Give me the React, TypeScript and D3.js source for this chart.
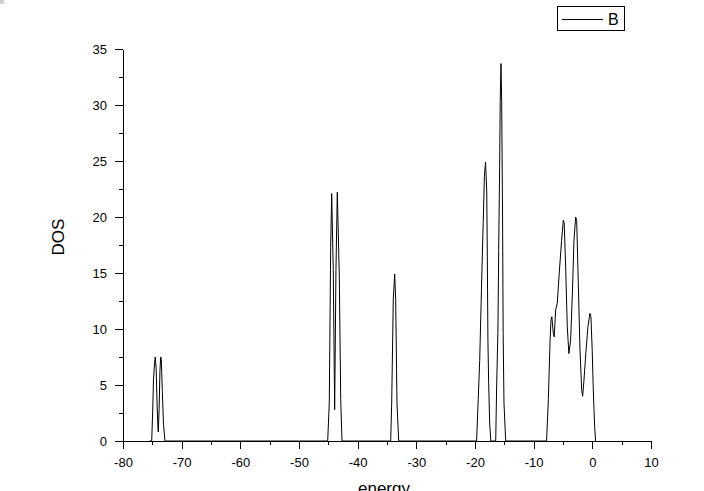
import { useEffect, useRef } from 'react';
import * as d3 from 'd3';

// DOS curve (energy in eV, DOS)
const energy = [
  -75.5, -75.11, -74.95, -74.8, -74.62, -74.5, -74.35, -74.2, -74.05, -73.98, -73.85, -73.7, -73.58, -73.47, -73.3, -73.1, -72.84,
  -45.11, -44.84, -44.6, -44.43, -44.16, -43.92, -43.7, -43.47, -43.13, -42.89, -42.67,
  -34.37, -34.2, -33.93, -33.69, -33.52, -33.3, -33.01,
  -19.73, -19.45, -19.2, -18.9, -18.6, -18.4, -18.2, -18.0, -17.9, -17.8, -17.67, -17.5, -17.3,
  -16.47, -16.3, -16.1, -15.96, -15.8, -15.7, -15.57, -15.45, -15.3, -15.2, -15.06, -14.77,
  -7.8, -7.5, -7.2, -7.05, -6.9, -6.65, -6.5, -6.25, -5.98, -5.64, -5.24, -4.95, -4.8, -4.55, -4.27, -4.0,
  -3.7, -3.4, -3.13, -2.84, -2.67, -2.39, -2.1, -1.82, -1.65, -1.43, -1.1, -0.75, -0.41, -0.24, -0.02, 0.15, 0.39, 0.56,
];
const dos = [
  0, 0, 2.5, 5.5, 7.0, 7.5, 6.5, 3.5, 1.2, 0.8, 2.8, 6.3, 7.5, 7.3, 4.5, 1.5, 0,
  0, 3.4, 17.3, 22.1, 15.3, 2.8, 15.3, 22.2, 14.7, 3.7, 0,
  0, 3.4, 12.6, 14.9, 12.6, 3.4, 0,
  0, 3.7, 7.2, 13.5, 19.5, 23.6, 24.9, 22.4, 16.5, 9.0, 5.2, 1.6, 0,
  0, 5.2, 9.6, 17, 24.5, 30.4, 33.7, 30.2, 20, 9.6, 3.4, 0,
  0, 3.7, 9, 10.8, 11.1, 9.6, 9.3, 11.7, 12.3, 15, 17.9, 19.7, 19.5, 15.6, 10.2, 7.8,
  9, 13.2, 17.9, 20.0, 19.7, 14.1, 8.1, 4.6, 4.0, 5.4, 7.9, 10.2, 11.4, 11.1, 8.1, 4.8, 1.3, 0,
];

const xMajor = [-80, -70, -60, -50, -40, -30, -20, -10, 0, 10];
const xMinor = [-75, -65, -55, -45, -35, -25, -15, -5, 5];
const yMajor = [0, 5, 10, 15, 20, 25, 30, 35];
const yMinor = [2.5, 7.5, 12.5, 17.5, 22.5, 27.5, 32.5];

const seriesName = 'B';
const xTitle = 'energy';
const yTitle = 'DOS';

const W = 704;
const H = 491;
const FONT = '"Liberation Sans", Arial, sans-serif';

const App = () => {
  const svgRef = useRef<SVGSVGElement>(null);

  useEffect(() => {
    const svg = d3.select(svgRef.current);
    svg.selectAll('*').remove();

    const x = d3.scaleLinear().domain([-80, 10]).range([123, 651]);
    const y = d3.scaleLinear().domain([0, 35]).range([441, 49]);

    svg.append('rect').attr('x', 0).attr('y', 0).attr('width', 4).attr('height', 4).attr('fill', '#cfcfcf');

    // minor ticks
    const xm = svg.append('g').attr('transform', `translate(0,${y(0)})`)
      .call(d3.axisBottom(x).tickValues(xMinor).tickSize(4).tickSizeOuter(0).tickFormat(() => ''));
    xm.select('.domain').remove();
    const ym = svg.append('g').attr('transform', `translate(${x(-80)},0)`)
      .call(d3.axisLeft(y).tickValues(yMinor).tickSize(4).tickSizeOuter(0).tickFormat(() => ''));
    ym.select('.domain').remove();

    // major axes
    const xa = svg.append('g').attr('transform', `translate(0,${y(0)})`)
      .call(d3.axisBottom(x).tickValues(xMajor).tickSize(8).tickSizeOuter(0).tickPadding(9).tickFormat(d3.format('d')));
    const ya = svg.append('g').attr('transform', `translate(${x(-80)},0)`)
      .call(d3.axisLeft(y).tickValues(yMajor).tickSize(8).tickSizeOuter(0).tickPadding(8).tickFormat(d3.format('d')));

    [xa, ya, xm, ym].forEach(g => {
      g.selectAll('line').attr('stroke', '#000').attr('shape-rendering', 'crispEdges');
      g.selectAll('.domain').attr('stroke', '#000').attr('shape-rendering', 'crispEdges');
      g.selectAll('text').attr('font-family', FONT).attr('font-size', 13).attr('fill', '#000');
    });
    xa.selectAll('text').text((d: any) => (d < 0 ? '-' + Math.abs(d) : String(d)));

    // curve
    const pts = energy.map((e, i) => [e, dos[i]] as [number, number]);
    svg.append('path')
      .datum(pts)
      .attr('fill', 'none')
      .attr('stroke', '#000')
      .attr('stroke-width', 1)
      .attr('d', d3.line().x(d => x(d[0])).y(d => y(d[1])));

    // axis titles
    svg.append('text')
      .attr('x', 384).attr('y', 494)
      .attr('text-anchor', 'middle')
      .attr('font-family', FONT).attr('font-size', 17)
      .text(xTitle);
    svg.append('text')
      .attr('transform', 'translate(64,237) rotate(-90)')
      .attr('text-anchor', 'middle')
      .attr('font-family', FONT).attr('font-size', 17)
      .text(yTitle);

    // legend
    svg.append('rect')
      .attr('x', 557.5).attr('y', 6.5).attr('width', 67).attr('height', 24)
      .attr('fill', '#fff').attr('stroke', '#000');
    svg.append('line')
      .attr('x1', 562).attr('x2', 603).attr('y1', 19.5).attr('y2', 19.5)
      .attr('stroke', '#000');
    svg.append('text')
      .attr('x', 608).attr('y', 25)
      .attr('font-family', FONT).attr('font-size', 16)
      .text(seriesName);
  }, []);

  return (
    <div style={{ position: 'absolute', left: 0, top: 0 }}>
      <svg ref={svgRef} width={W} height={H} style={{ display: 'block', background: '#fff' }} />
    </div>
  );
};

export default App;
